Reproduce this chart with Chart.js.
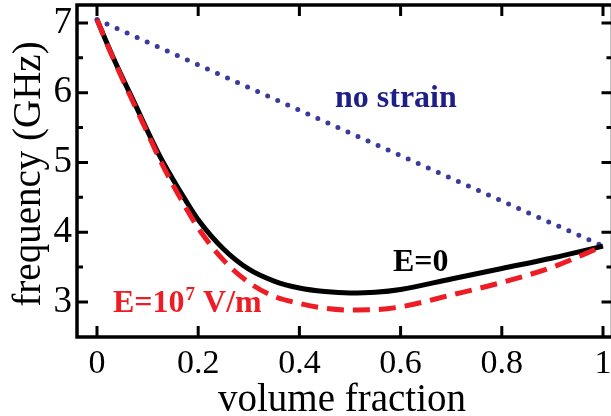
<!DOCTYPE html>
<html>
<head>
<meta charset="utf-8">
<script src="https://cdn.jsdelivr.net/npm/chart.js@4"></script>
<style>
html,body{margin:0;padding:0;background:#fff;}
</style>
</head>
<body>
<canvas id="c" width="611" height="416"></canvas>
<script>
// ---- data ----
const xs = [0, 0.025, 0.05, 0.075, 0.1, 0.125, 0.15, 0.175, 0.2, 0.25, 0.3, 0.35, 0.4, 0.45, 0.5, 0.55, 0.6, 0.7, 0.8, 0.9, 1];
const freqE0 = [7.05, 6.62, 6.22, 5.84, 5.45, 5.08, 4.76, 4.46, 4.18, 3.76, 3.47, 3.30, 3.20, 3.15, 3.13, 3.14, 3.18, 3.33, 3.48, 3.63, 3.80];
const freqE7 = [7.05, 6.61, 6.20, 5.81, 5.42, 5.03, 4.68, 4.36, 4.06, 3.60, 3.28, 3.08, 2.98, 2.91, 2.885, 2.89, 2.93, 3.10, 3.28, 3.50, 3.80];
const xsNoStrain = [0, 1];
const freqNoStrain = [7.05, 3.80];
const xTickVals = [0, 0.2, 0.4, 0.6, 0.8, 1];
const xTickLabels = ["0", "0.2", "0.4", "0.6", "0.8", "1"];
const yTickVals = [3, 4, 5, 6, 7];
const yTickLabels = ["3", "4", "5", "6", "7"];
const yMinorVals = [3.5, 4.5, 5.5, 6.5];
const xTitle = "volume fraction";
const yTitle = "frequency (GHz)";

const pts = (a, b) => a.map((x, i) => ({x: x, y: b[i]}));
const SERIF = "'Liberation Serif','DejaVu Serif',serif";

const framePlugin = {
  id: 'frame',
  afterDraw(chart) {
    const {ctx, chartArea: ca, scales} = chart;
    const sx = scales.x, sy = scales.y;
    const R = ca.right + 1.5; // right frame edge just outside the picture
    ctx.save();
    ctx.strokeStyle = '#000';
    ctx.lineWidth = 3.5;
    ctx.lineCap = 'butt';
    ctx.strokeRect(ca.left, ca.top, R - ca.left, ca.bottom - ca.top);
    ctx.lineWidth = 3;
    ctx.beginPath();
    xTickVals.forEach(v => {
      const p = sx.getPixelForValue(v);
      ctx.moveTo(p, ca.bottom); ctx.lineTo(p, ca.bottom - 11);
      ctx.moveTo(p, ca.top); ctx.lineTo(p, ca.top + 11);
    });
    yTickVals.forEach(v => {
      const p = sy.getPixelForValue(v);
      ctx.moveTo(ca.left, p); ctx.lineTo(ca.left + 11, p);
      ctx.moveTo(R, p); ctx.lineTo(R - 11, p);
    });
    yMinorVals.forEach(v => {
      const p = sy.getPixelForValue(v);
      ctx.moveTo(ca.left, p); ctx.lineTo(ca.left + 6, p);
      ctx.moveTo(R, p); ctx.lineTo(R - 6, p);
    });
    ctx.stroke();

    // axis titles
    ctx.fillStyle = '#000';
    ctx.font = "39px " + SERIF;
    ctx.textAlign = 'center';
    ctx.textBaseline = 'alphabetic';
    ctx.fillText(xTitle, 342, 411);
    ctx.save();
    ctx.translate(40, 174);
    ctx.rotate(-Math.PI / 2);
    ctx.fillText(yTitle, 0, 0);
    ctx.restore();

    // annotations
    ctx.textAlign = 'left';
    ctx.font = "bold 32px " + SERIF;
    ctx.fillStyle = '#1f1f8a';
    ctx.fillText("no strain", 335, 107);
    ctx.fillStyle = '#000';
    ctx.fillText("E=0", 393, 271);
    ctx.fillStyle = '#ee1c24';
    let x = 113;
    ctx.fillText("E=10", x, 312);
    x += ctx.measureText("E=10").width;
    ctx.font = "bold 19px " + SERIF;
    ctx.fillText("7", x + 1, 300);
    x += ctx.measureText("7").width + 1;
    ctx.font = "bold 32px " + SERIF;
    ctx.fillText(" V/m", x, 312);
    ctx.restore();
  }
};

function noPad(s) {
  s.paddingLeft = 0; s.paddingRight = 0; s.paddingTop = 0; s.paddingBottom = 0;
}

new Chart(document.getElementById('c'), {
  type: 'line',
  data: {
    datasets: [
      {
        label: 'E=10^7 V/m',
        data: pts(xs, freqE7),
        borderColor: '#ee1c24',
        borderWidth: 5,
        borderDash: [17, 9],
        pointRadius: 0,
        cubicInterpolationMode: 'monotone',
        order: 1
      },
      {
        label: 'E=0',
        data: pts(xs, freqE0),
        borderColor: '#000',
        borderWidth: 5,
        pointRadius: 0,
        cubicInterpolationMode: 'monotone',
        order: 2
      },
      {
        label: 'no strain',
        data: pts(xsNoStrain, freqNoStrain),
        borderColor: '#3a3a9c',
        borderWidth: 5,
        borderDash: [0, 11],
        borderCapStyle: 'round',
        pointRadius: 0,
        order: 3
      }
    ]
  },
  options: {
    responsive: false,
    animation: false,
    devicePixelRatio: 1,
    layout: {padding: {top: 5, right: 0, bottom: 0, left: 0}},
    plugins: {legend: {display: false}, tooltip: {enabled: false}},
    scales: {
      x: {
        type: 'linear',
        min: -0.0395,
        max: 1.0158,
        grid: {display: false, drawTicks: false},
        border: {display: false},
        afterFit(s) { s.height = 79; noPad(s); },
        afterBuildTicks(s) { s.ticks = xTickVals.map(v => ({value: v})); },
        ticks: {
          autoSkip: false,
          maxRotation: 0,
          padding: 7,
          color: '#000',
          font: {family: SERIF, size: 34},
          callback: (v) => { const i = xTickVals.indexOf(v); return i >= 0 ? xTickLabels[i] : ''; }
        }
      },
      y: {
        type: 'linear',
        min: 2.498,
        max: 7.258,
        grid: {display: false, drawTicks: false},
        border: {display: false},
        afterFit(s) { s.width = 77; noPad(s); },
        afterBuildTicks(s) { s.ticks = yTickVals.map(v => ({value: v})); },
        ticks: {
          autoSkip: false,
          padding: 5,
          color: '#000',
          font: {family: SERIF, size: 37},
          callback: (v) => { const i = yTickVals.indexOf(v); return i >= 0 ? yTickLabels[i] : ''; }
        }
      }
    }
  },
  plugins: [framePlugin]
});
</script>
</body>
</html>
